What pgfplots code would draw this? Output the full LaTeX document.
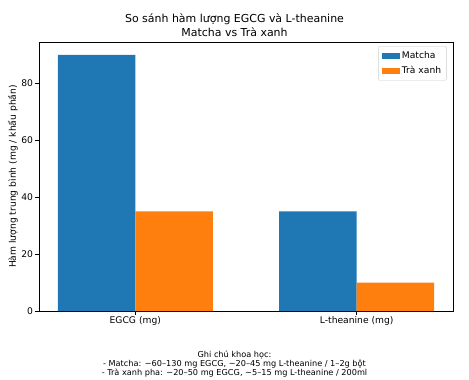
\documentclass[border=0pt]{standalone}
\usepackage{pgfplots}
\pgfplotsset{compat=1.18}
\usepackage{fontspec}
\setmainfont{DejaVu Sans}
\definecolor{mblue}{HTML}{1F77B4}
\definecolor{morange}{HTML}{FF7F0E}
\begin{document}
\begin{tikzpicture}[x=1bp,y=1bp]
\path[use as bounding box] (0,0) rectangle (469,379);
\begin{axis}[
  at={(39bp,68bp)}, anchor=south west,
  scale only axis, width=414bp, height=269bp,
  xmin=-0.435, xmax=1.435, ymin=0, ymax=94.5,
  xtick={0,1}, xticklabels={EGCG (mg), L-theanine (mg)},
  ytick={0,20,40,60,80},
  xtick pos=left, ytick pos=left, tick align=outside,
  major tick length=3.5bp,
  tick style={black, line width=0.6pt},
  axis line style={line width=0.6pt},
  ticklabel style={font=\fontsize{9.2}{11}\selectfont},
  xticklabel style={yshift=1bp},
  yticklabel style={xshift=1bp},
  /pgf/number format/assume math mode=true,
  ylabel={Hàm lượng trung bình (mg / khẩu phần)},
  ylabel style={font=\fontsize{9.2}{11}\selectfont, at={(axis description cs:-0.063,0.5)}, anchor=center, rotate=0},
  legend style={at={(0.985,0.985)}, anchor=north east, draw=black!20, rounded corners=2pt,
    font=\fontsize{9.2}{11}\selectfont, row sep=2pt, inner sep=3.5pt},
  legend cell align=left,
  legend image code/.code={\fill[#1, sharp corners] (0bp,-3bp) rectangle (18bp,3bp);},
]
\addplot[ybar, bar width=0.35, bar shift=-0.175, fill=mblue, draw=none] coordinates {(0,90) (1,35)};
\addlegendentry{Matcha}
\addplot[ybar, bar width=0.35, bar shift=0.175, fill=morange, draw=none] coordinates {(0,35) (1,10)};
\addlegendentry{Trà xanh}
\end{axis}
\node[font=\fontsize{11}{13.5}\selectfont, align=center] at (234.5,354) {So sánh hàm lượng EGCG và L-theanine\\Matcha vs Trà xanh};
\node[font=\fontsize{8.2}{9.2}\selectfont, align=center] at (234.5,15) {Ghi chú khoa học:\\- Matcha: \textasciitilde60–130 mg EGCG, \textasciitilde20–45 mg L-theanine / 1–2g bột\\- Trà xanh pha: \textasciitilde20–50 mg EGCG, \textasciitilde5–15 mg L-theanine / 200ml};
\end{tikzpicture}
\end{document}
